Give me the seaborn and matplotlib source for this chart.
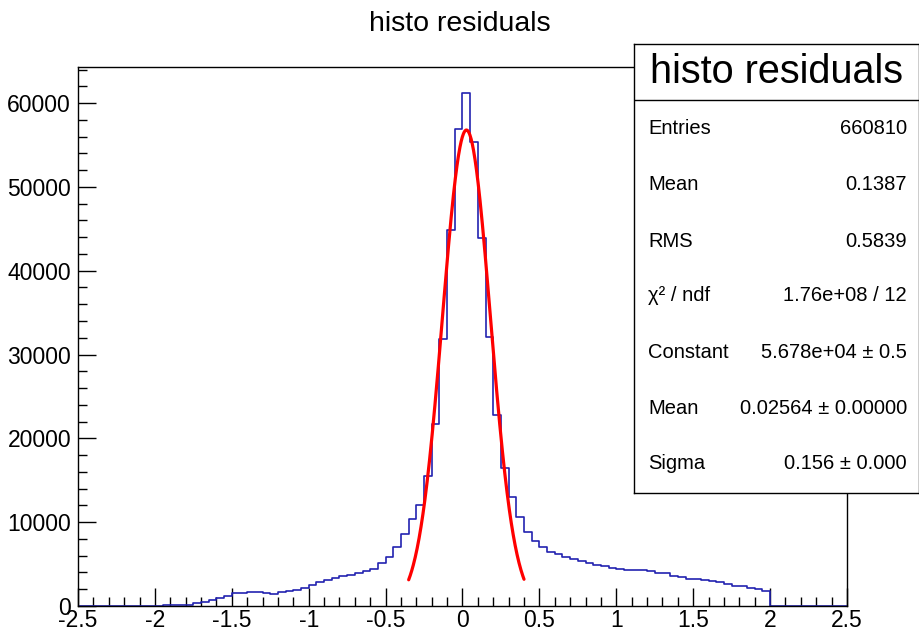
#!/usr/bin/env python3
"""
ROOT-style residuals histogram with a gaussian fit and a stats box.
"""

import numpy as np
import pandas as pd
import matplotlib
matplotlib.use("Agg")
import matplotlib.pyplot as plt
import seaborn as sns
from matplotlib.ticker import MultipleLocator, FormatStrFormatter

# bin contents, 0.05 wide bins from -2.0 to 2.0
counts = [
    20, 80, 100, 110, 150, 300, 500, 700, 950, 1230,            # -2.00 .. -1.55
    1590, 1590, 1700, 1620, 1590, 1430, 1630, 1790, 1910, 2190,  # -1.50 .. -1.05
    2470, 2830, 3140, 3380, 3580, 3740, 3970, 4210, 4370, 5090,  # -1.00 .. -0.55
    5850, 7080, 8550, 10340, 12100, 15550, 21700, 31800, 44800, 56900,  # -0.50 .. -0.05
    61200, 55300, 43900, 32100, 22800, 16500, 13000, 10650, 8790, 7790,  # 0.00 .. 0.45
    7080, 6480, 6170, 5810, 5570, 5370, 5170, 4890, 4730, 4570,  # 0.50 .. 0.95
    4450, 4330, 4330, 4330, 4180, 3970, 3900, 3620, 3500, 3260,  # 1.00 .. 1.45
    3180, 3070, 2980, 2830, 2590, 2420, 2390, 2110, 1990, 1790,  # 1.50 .. 1.95
]
hist_range = (-2.5, 2.5)
bin_width = 0.05
filled_from = -2.0

# gaussian fit parameters (from the stats box)
fit_constant = 5.678e4
fit_mean = 0.02564
fit_sigma = 0.156
fit_range = (-0.35, 0.40)

stats_labels = ["Entries", "Mean", "RMS", "\u03c7\u00b2 / ndf", "Constant", "Mean", "Sigma"]
stats_values = ["660810", "0.1387", "0.5839", "1.76e+08 / 12",
                "5.678e+04 \u00b1 0.5", "0.02564 \u00b1 0.00000", "0.156 \u00b1 0.000"]

sns.set_theme(style="white")
plt.rcParams['font.family'] = ['Liberation Sans', 'DejaVu Sans']
plt.rcParams['text.color'] = 'black'
plt.rcParams['xtick.color'] = 'black'
plt.rcParams['ytick.color'] = 'black'
plt.rcParams['axes.labelcolor'] = 'black'

n_bins = int(round((hist_range[1] - hist_range[0]) / bin_width))
centers = hist_range[0] + bin_width * (np.arange(n_bins) + 0.5)
lead = int(round((filled_from - hist_range[0]) / bin_width))
weights = np.zeros(n_bins)
weights[lead:lead + len(counts)] = counts
df = pd.DataFrame({"x": centers, "w": weights})

fig = plt.figure(figsize=(9.2, 6.3), dpi=100)
ax = fig.add_axes([78 / 920, 1 - 606 / 630, (847 - 78) / 920, (606 - 67) / 630])

sns.histplot(data=df, x="x", weights="w", binwidth=bin_width, binrange=hist_range,
             element="step", fill=False, color="#2222b0", linewidth=1.2, ax=ax)

x_fit = np.linspace(fit_range[0], fit_range[1], 300)
y_fit = fit_constant * np.exp(-0.5 * ((x_fit - fit_mean) / fit_sigma) ** 2)
sns.lineplot(x=x_fit, y=y_fit, color="red", linewidth=2.3, ax=ax)

ax.set_xlim(*hist_range)
ax.set_ylim(0, 64300)
ax.set_xlabel("")
ax.set_ylabel("")
ax.xaxis.set_major_locator(MultipleLocator(0.5))
ax.xaxis.set_minor_locator(MultipleLocator(0.1))
ax.xaxis.set_major_formatter(FormatStrFormatter('%g'))
ax.yaxis.set_major_locator(MultipleLocator(10000))
ax.yaxis.set_minor_locator(MultipleLocator(2000))
ax.yaxis.set_major_formatter(FormatStrFormatter('%d'))
ax.tick_params(which='major', direction='in', length=13, width=1, color='black',
               labelsize=16.5, labelcolor='black',
               top=False, right=False, bottom=True, left=True)
ax.tick_params(which='minor', direction='in', length=6.5, width=1, color='black',
               top=False, right=False, bottom=True, left=True)
ax.tick_params(axis='x', pad=2)
ax.tick_params(axis='y', pad=5)
for s in ax.spines.values():
    s.set_color('black')
    s.set_linewidth(1)

fig.text(0.5, 1 - 24 / 630, "histo residuals", ha='center', va='center',
         fontsize=20.5, color='black')

# stats box
box = fig.add_axes([634 / 920, 1 - 493 / 630, 285 / 920, 449 / 630], zorder=5)
box.set_xlim(0, 1)
box.set_ylim(0, 1)
box.set_xticks([])
box.set_yticks([])
box.set_facecolor('white')
for s in box.spines.values():
    s.set_color('black')
    s.set_linewidth(1)
box.axhline(0.875, color='black', linewidth=1)
box.text(0.5, 0.9376, "histo residuals", ha='center', va='center', fontsize=28.5,
         color='black')
row_y = [0.811, 0.686, 0.561, 0.439, 0.314, 0.189, 0.065]
for yy, lab, val in zip(row_y, stats_labels, stats_values):
    box.text(0.049, yy, lab, ha='left', va='center', fontsize=14.5, color='black')
    box.text(0.958, yy, val, ha='right', va='center', fontsize=14.5, color='black')

plt.savefig("out.png", dpi=100)
plt.close()
